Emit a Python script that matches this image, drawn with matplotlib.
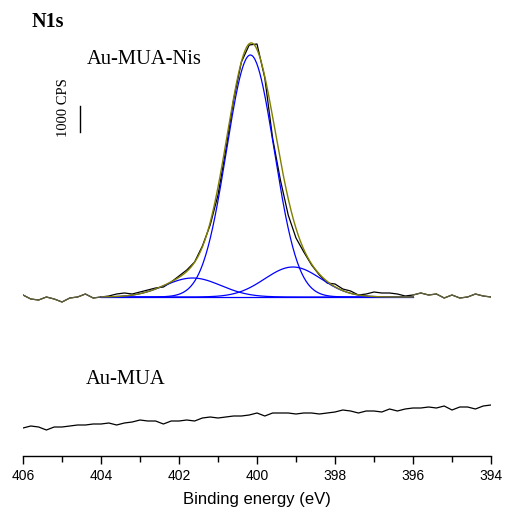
import matplotlib
matplotlib.use('Agg')
import matplotlib.pyplot as plt
import numpy as np

# binding energy grid of the measured spectra (eV)
energy = np.arange(406.0, 393.99, -0.2)

# measured intensities, displayed with offsets (26 units = 1000 CPS)
au_mua_nis = [161, 157, 156, 159, 157, 154, 158, 159, 162, 158,
              159, 160, 162, 163, 162, 164, 166, 168, 169, 174,
              180, 186, 194, 210, 231, 261, 306, 356, 394, 411,
              412, 378, 318, 276, 241, 218, 204, 191, 181, 173,
              172, 167, 165, 161, 162, 164, 163, 163, 162, 160,
              161, 163, 161, 162, 158, 161, 158, 159, 162, 160, 159]
au_mua = [28, 30, 29, 26, 29, 29, 30, 31, 31, 32,
          32, 33, 31, 33, 34, 36, 35, 35, 32, 35,
          35, 36, 35, 38, 39, 38, 39, 40, 40, 41,
          43, 40, 43, 43, 43, 42, 43, 43, 42, 43,
          44, 46, 45, 43, 45, 45, 44, 47, 45, 47,
          48, 48, 49, 48, 50, 46, 49, 49, 47, 50, 51]

# peak fit of Au-MUA-Nis (flat background, gaussian components)
fit_range = (404.0, 396.0)
background = 159
peak_centers = [400.17, 401.65, 399.08]
peak_heights = [242, 19, 30]
peak_fwhm = [1.44, 1.7, 1.7]

energy = np.array(energy)
au_mua_nis = np.array(au_mua_nis)
au_mua = np.array(au_mua)

e_fit = np.linspace(fit_range[0], fit_range[1], 400)
comps = []
for c, h, w in zip(peak_centers, peak_heights, peak_fwhm):
    comps.append(h * np.exp(-4 * np.log(2) * (e_fit - c) ** 2 / w ** 2))
envelope = background + np.sum(comps, axis=0)

fig = plt.figure(figsize=(5.06, 5.09), dpi=100)
ax = fig.add_axes([23 / 506, 53 / 509, 468 / 506, 456 / 509])

ax.plot(energy, au_mua_nis, color='black', lw=0.9)
for part in [energy >= fit_range[0] - 0.001, energy <= fit_range[1] + 0.001]:
    ax.plot(energy[part], au_mua_nis[part], color='#808000', lw=0.9)
    ax.plot(energy[part], au_mua_nis[part], color='#3030c0', lw=0.6, alpha=0.5)
for comp in comps:
    ax.plot(e_fit, background + comp, color='#0000ff', lw=0.9)
ax.plot(e_fit, np.full_like(e_fit, background), color='#0000ff', lw=0.9)
ax.plot(e_fit, envelope, color='#808000', lw=1.0)

ax.plot(energy, au_mua, color='black', lw=0.9)

# scale bar
ax.plot([404.54, 404.54], [324, 350], color='black', lw=1.0)
ax.text(404.97, 348, '1000 CPS', rotation=90, ha='center', va='center',
        family='Liberation Serif', fontsize=10.5)

ax.text(405.78, 434, 'N1s', ha='left', va='center', family='Liberation Serif',
        fontsize=14.5, fontweight='bold')
ax.text(404.36, 397, 'Au-MUA-Nis', ha='left', va='center',
        family='Liberation Serif', fontsize=14.8)
ax.text(404.38, 76, 'Au-MUA', ha='left', va='center',
        family='Liberation Serif', fontsize=14.8)

ax.set_xlim(406, 394)
ax.set_ylim(0, 456)
for s in ['top', 'left', 'right']:
    ax.spines[s].set_visible(False)
ax.spines['bottom'].set_linewidth(1.0)
ax.set_yticks([])
ax.set_xticks(np.arange(406, 393, -2))
ax.set_xticks(np.arange(405, 394, -2), minor=True)
ax.tick_params(axis='x', which='major', length=6, width=1.0, direction='out',
               labelsize=10)
ax.tick_params(axis='x', which='minor', length=4, width=1.0, direction='out')
for lab in ax.get_xticklabels():
    lab.set_family('Liberation Sans')
ax.set_xlabel('Binding energy (eV)', family='Liberation Sans', fontsize=12,
              labelpad=6)

fig.savefig('out.png', dpi=100)
